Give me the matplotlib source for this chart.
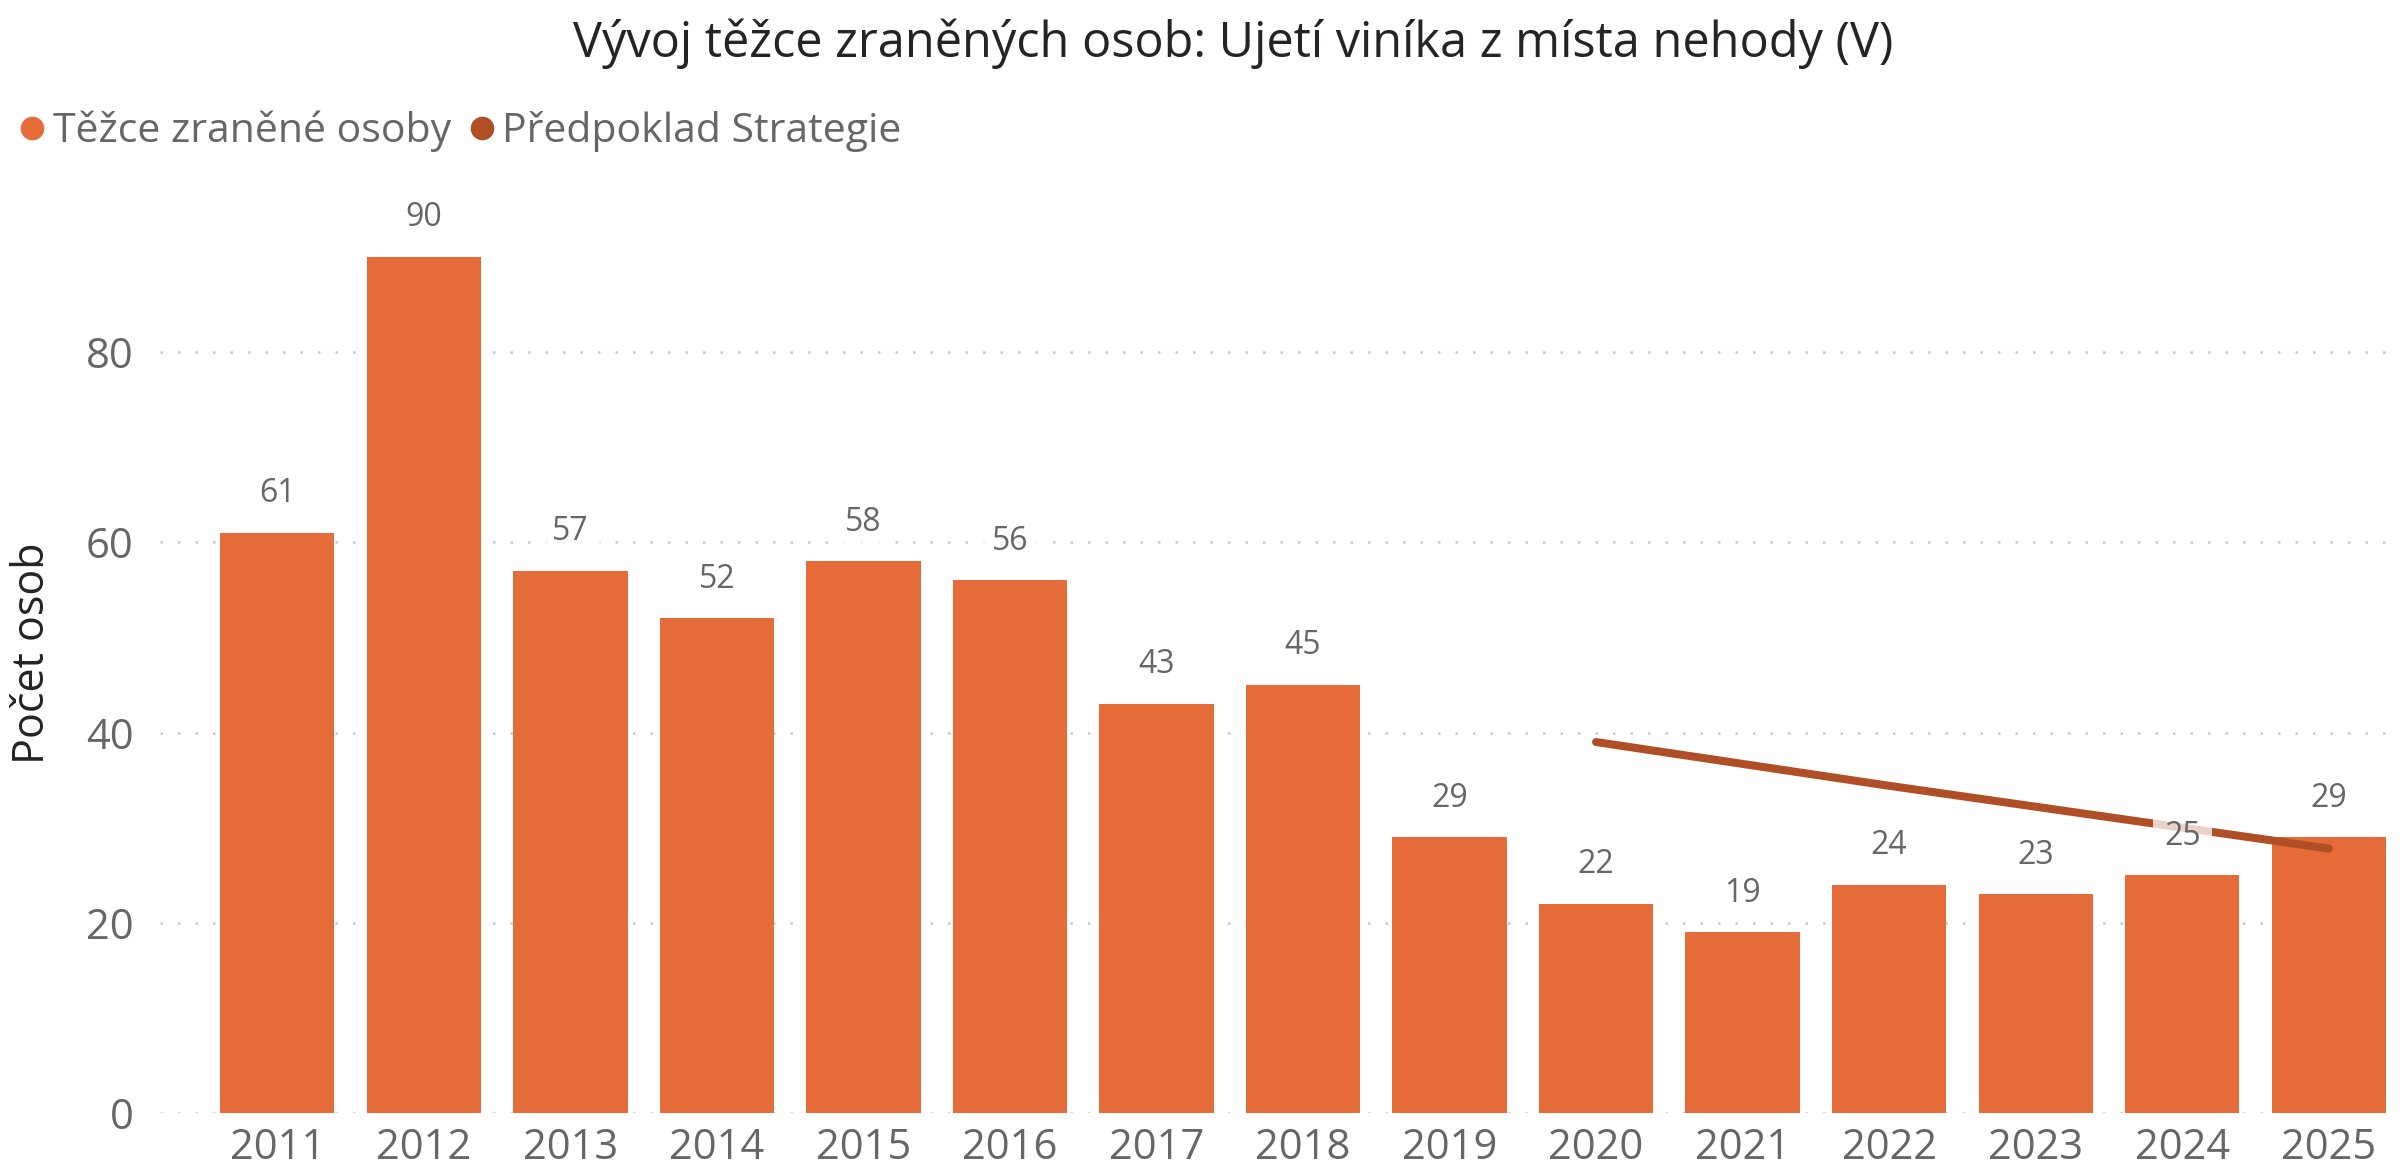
import matplotlib
matplotlib.use("Agg")
import matplotlib.pyplot as plt
from matplotlib.lines import Line2D

years = ["2011", "2012", "2013", "2014", "2015", "2016", "2017", "2018",
         "2019", "2020", "2021", "2022", "2023", "2024", "2025"]
injured = [61, 90, 57, 52, 58, 56, 43, 45, 29, 22, 19, 24, 23, 25, 29]
strategy_years = ["2020", "2021", "2022", "2023", "2024", "2025"]
strategy = [39.0, 36.7, 34.4, 32.2, 30.0, 27.8]
yticks = [0, 20, 40, 60, 80]

title = "Vývoj těžce zraněných osob: Ujetí viníka z místa nehody (V)"
series_names = ["Těžce zraněné osoby", "Předpoklad Strategie"]
ylabel = "Počet osob"

BAR = "#E56B38"
LINE = "#B04E25"
GRAY = "#666666"
DARK = "#252423"

plt.rcParams['font.family'] = ['Open Sans', 'DejaVu Sans']

fig = plt.figure(figsize=(24, 11.76), dpi=100)
ax = fig.add_axes([0.0667, 0.0536, 0.9323, 0.7764])

x = list(range(len(years)))
ax.bar(x, injured, width=0.78, color=BAR, zorder=2)
xs = [years.index(y) for y in strategy_years]
ax.plot(xs, strategy, color=LINE, lw=5.8, solid_capstyle='round', zorder=3)

for xi, v in zip(x, injured):
    ax.annotate(str(v), (xi, v), xytext=(0, 22), textcoords='offset points',
                ha='center', va='baseline', fontsize=23, color=GRAY, zorder=5,
                bbox=dict(boxstyle='square,pad=0.35', fc='white', ec='none', alpha=0.75))

ax.set_xlim(-0.8, 14.47)
ax.set_ylim(0, 96)
ax.set_yticks(yticks)
ax.set_yticklabels([str(t) for t in yticks], fontsize=30, color=GRAY)
ax.set_xticks(x)
ax.set_xticklabels(years, fontsize=30, color=GRAY)
ax.tick_params(length=0, axis='y', pad=19)
ax.tick_params(length=0, axis='x', pad=10)
for s in ax.spines.values():
    s.set_visible(False)
ax.yaxis.grid(True, color='#C8C8C8', linestyle=(0, (1, 6)), lw=1.8, zorder=0)
ax.set_axisbelow(True)

fig.text(33 / 2400, 1 - 653 / 1176, ylabel, rotation=90, ha='center', va='center',
         fontsize=31, color=DARK)

fig.text(0.514, 1 - 57 / 1176, title, ha='center', va='baseline', fontsize=35, color=DARK)

handles = [Line2D([], [], marker='o', ls='none', color=BAR, markersize=16),
           Line2D([], [], marker='o', ls='none', color=LINE, markersize=16)]
leg = fig.legend(handles, series_names, loc='center left', bbox_to_anchor=(0.005, 0.888),
                 ncol=2, frameon=False, fontsize=29.5, handletextpad=0.0,
                 columnspacing=0.25, handlelength=1.0, borderaxespad=0, borderpad=0)
for t in leg.get_texts():
    t.set_color(GRAY)

fig.savefig("out.png", dpi=100, facecolor='white')
